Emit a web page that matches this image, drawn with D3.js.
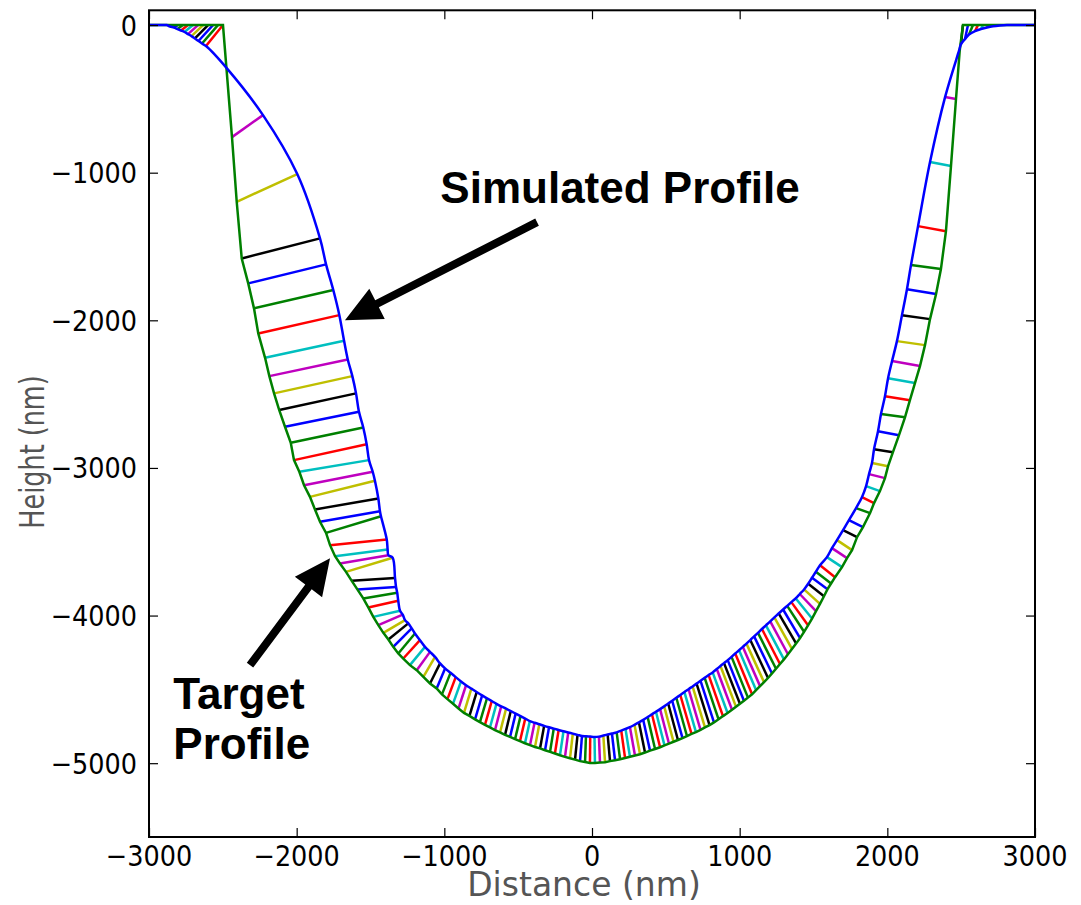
<!DOCTYPE html>
<html>
<head>
<meta charset="utf-8">
<script src="https://cdn.jsdelivr.net/npm/d3@7"></script>
<style>
  body { margin: 0; background: #ffffff; }
  svg { display: block; }
</style>
</head>
<body>
<svg id="chart" width="1081" height="905"></svg>
<script>
// Target profile points (nm), left rim -> bottom -> right rim
const targetX = [
  -3000, -2975, -2950, -2925, -2900, -2880,
  -2838, -2804, -2770, -2736, -2702, -2668, -2634, -2600, -2567, -2533, -2499,
  -2475, -2438, -2406, -2372, -2328, -2289, -2260, -2214, -2185, -2153, -2118, -2079, -2040,
  -2018, -1982, -1950, -1910, -1876, -1842, -1801, -1774, -1740, -1707, -1666, -1627, -1589,
  -1549, -1515, -1481, -1447, -1413, -1379, -1346, -1312, -1278, -1233, -1187, -1142, -1097, -1052,
  -1016, -979, -941, -904, -867, -830, -792, -759, -725, -691, -657, -623, -589, -555, -521,
  -488, -454, -420, -386, -352, -318, -284, -251, -217, -183, -149, -115, -81, -47, -14,
  20, 54, 88, 122, 156, 190, 224, 257, 291, 325, 359, 393, 427, 461, 491, 521, 552, 582,
  613, 643, 674, 704, 735, 765, 796, 826, 857, 887, 918, 948, 975, 1002, 1029, 1056, 1084,
  1111, 1138, 1165, 1192, 1219, 1246, 1273, 1300, 1327, 1354, 1382, 1409, 1436, 1463, 1490,
  1517, 1544, 1571, 1595, 1619, 1646,
  1693, 1727, 1761, 1795, 1835, 1883, 1910, 1950, 1984, 2005, 2038, 2079, 2120, 2153, 2187,
  2221, 2255, 2289, 2330, 2363, 2397, 2431, 2465, 2490,
  2512, 2546, 2580, 2614, 2648, 2682, 2722, 2763,
  2810, 2860, 2910, 2960, 3000
];
const targetY = [
  0, 0, 0, 0, 0, 0,
  0, 0, 0, 0, 0, 0, 0, 0, 0, 0, 0,
  -298, -759, -1197, -1581, -1750, -1919, -2089, -2254, -2378, -2495, -2608, -2721, -2830,
  -2947, -3026, -3117, -3196, -3281, -3365, -3440, -3523, -3598, -3647, -3704, -3765, -3823,
  -3884, -3945, -4009, -4065, -4117, -4162, -4212, -4257, -4291, -4336, -4370, -4415, -4460, -4494,
  -4534, -4566, -4597, -4629, -4659, -4680, -4703, -4722, -4740, -4758, -4776, -4792, -4808, -4822, -4837,
  -4851, -4865, -4878, -4890, -4900, -4912, -4923, -4934, -4946, -4957, -4967, -4976, -4986, -4992, -4998,
  -4999, -4996, -4993, -4986, -4980, -4973, -4965, -4956, -4948, -4939, -4928, -4915, -4904, -4892, -4879, -4867, -4855, -4843,
  -4830, -4816, -4802, -4789, -4774, -4758, -4742, -4724, -4703, -4681, -4660, -4638, -4617, -4597, -4577, -4556, -4533,
  -4505, -4478, -4451, -4423, -4392, -4360, -4328, -4297, -4262, -4226, -4189, -4153, -4110, -4066, -4020,
  -3970, -3921, -3869, -3821, -3783, -3740,
  -3672, -3611, -3557, -3469, -3401, -3306, -3238, -3157, -3069, -2988, -2893, -2778, -2656, -2541, -2425,
  -2310, -2168, -1992, -1822, -1653, -1396, -955, -501, -175,
  0, 0, 0, 0, 0, 0, 0, 0,
  0, 0, 0, 0, 0
];
// Simulated profile points (nm), paired one-to-one with the target points
const simX = [
  -3000, -2975, -2950, -2925, -2900, -2880,
  -2858, -2831, -2807, -2783, -2760, -2736, -2712, -2689, -2665, -2641, -2614,
  -2471, -2228, -1996, -1842, -1801, -1752, -1711, -1679, -1654, -1623, -1598, -1578, -1549,
  -1526, -1510, -1485, -1470, -1447, -1436, -1429, -1390, -1384, -1379, -1350, -1334, -1327,
  -1319, -1312, -1300, -1282, -1266, -1244, -1221, -1199, -1165, -1131, -1097, -1063, -1029, -995,
  -958, -923, -887, -853, -817, -781, -744, -711, -679, -647, -615, -582, -550, -517, -484,
  -452, -421, -389, -357, -324, -291, -259, -226, -193, -161, -130, -98, -68, -41, -12,
  17, 47, 77, 106, 135, 167, 198, 227, 257, 288, 318, 347, 377, 406, 433, 461, 489, 516,
  543, 571, 598, 626, 654, 681, 708, 735, 763, 790, 817, 845, 870, 894, 919, 945, 970,
  996, 1021, 1046, 1072, 1098, 1124, 1151, 1178, 1207, 1235, 1264, 1294, 1322, 1350, 1379,
  1407, 1436, 1464, 1490, 1516, 1544,
  1591, 1625, 1659, 1700, 1740, 1788, 1828, 1856, 1876, 1896, 1910, 1937, 1957, 1984, 2005,
  2032, 2065, 2099, 2133, 2160, 2208, 2289, 2391, 2486,
  2499, 2526, 2553, 2594, 2634, 2675, 2716, 2763,
  2810, 2860, 2910, 2960, 3000
];
const simY = [
  0, 0, 0, 0, 0, 0,
  -10, -17, -27, -37, -47, -61, -75, -91, -108, -125, -142,
  -295, -610, -1009, -1445, -1621, -1795, -1965, -2139, -2265, -2378, -2495, -2620, -2726,
  -2839, -2947, -3026, -3087, -3207, -3293, -3327, -3484, -3552, -3591, -3608, -3745, -3806,
  -3846, -3900, -3968, -3993, -4031, -4053, -4087, -4121, -4167, -4212, -4246, -4280, -4324, -4358,
  -4388, -4417, -4446, -4472, -4495, -4518, -4541, -4560, -4579, -4598, -4615, -4631, -4647, -4664, -4681,
  -4698, -4715, -4726, -4736, -4747, -4757, -4766, -4775, -4784, -4792, -4800, -4808, -4816, -4818, -4820,
  -4822, -4820, -4813, -4806, -4799, -4791, -4779, -4768, -4756, -4740, -4724, -4707, -4688, -4669, -4652, -4634, -4615, -4596,
  -4577, -4557, -4538, -4518, -4499, -4480, -4461, -4442, -4422, -4403, -4385, -4362, -4342, -4322, -4302, -4280, -4257,
  -4235, -4212, -4190, -4166, -4141, -4117, -4091, -4066, -4039, -4012, -3986, -3959, -3934, -3909, -3883,
  -3854, -3823, -3784, -3744, -3703, -3659,
  -3604, -3543, -3489, -3421, -3354, -3272, -3198, -3123, -3042, -2967, -2873, -2751, -2635, -2514, -2392,
  -2276, -2141, -1965, -1789, -1626, -1362, -928, -488, -172,
  -129, -95, -64, -41, -27, -16, -8, -3,
  0, 0, 0, 0, 0
];

const xTicks = [-3000, -2000, -1000, 0, 1000, 2000, 3000];
const yTicks = [0, -1000, -2000, -3000, -4000, -5000];
const xDomain = [-3000, 3000];
const yDomain = [-5500, 100];

// Connector colours cycle in the classic b, g, r, c, m, y, k order
const cycleColors = ["#0000ff", "#008000", "#ff0000", "#00bfbf", "#bf00bf", "#bfbf00", "#000000"];

// Annotation anchors (nm)
const simLabel = { text: "Simulated Profile", x: 190, y: -1205 };
const simArrow = { from: [-372, -1335], to: [-1673, -1999] };
const targetLabel = { lines: ["Target", "Profile"], x: -2835, y: -4635 };
const targetArrow = { from: [-2316, -4336], to: [-1774, -3611] };

const margin = { left: 149, right: 1081 - 1035, top: 10.3, bottom: 905 - 837 };
const W = 1081, H = 905;

const svg = d3.select("#chart");
const x = d3.scaleLinear().domain(xDomain).range([margin.left, W - margin.right]);
const y = d3.scaleLinear().domain(yDomain).range([H - margin.bottom, margin.top]);

const pairs = targetX.map((tx, i) => ({
  tx, ty: targetY[i], sx: simX[i], sy: simY[i], i
}));

const plot = svg.append("g");
const lw = 2.5;

// Connectors between each target point and its simulated counterpart
plot.append("g")
  .selectAll("line")
  .data(pairs)
  .join("line")
  .attr("x1", d => x(d.tx))
  .attr("y1", d => y(d.ty))
  .attr("x2", d => x(d.sx))
  .attr("y2", d => y(d.sy))
  .attr("stroke", d => cycleColors[d.i % cycleColors.length])
  .attr("stroke-width", lw);

// Target profile
plot.append("path")
  .datum(pairs)
  .attr("fill", "none")
  .attr("stroke", "#008000")
  .attr("stroke-width", lw)
  .attr("d", d3.line().x(d => x(d.tx)).y(d => y(d.ty)));

// Simulated profile
plot.append("path")
  .datum(pairs)
  .attr("fill", "none")
  .attr("stroke", "#0000ff")
  .attr("stroke-width", lw)
  .attr("d", d3.line().curve(d3.curveCatmullRom.alpha(0.5)).x(d => x(d.sx)).y(d => y(d.sy)));

// Inward ticks on all four sides
const tickLen = 9;
const fontTick = "DejaVu Sans, sans-serif";
const axisG = svg.append("g");

axisG.append("g").attr("transform", `translate(0,${y(yDomain[0])})`)
  .call(d3.axisBottom(x).tickValues(xTicks).tickSize(-tickLen).tickFormat(""));
axisG.append("g").attr("transform", `translate(0,${y(yDomain[1])})`)
  .call(d3.axisTop(x).tickValues(xTicks).tickSize(-tickLen).tickFormat(""));
axisG.append("g").attr("transform", `translate(${x(xDomain[0])},0)`)
  .call(d3.axisLeft(y).tickValues(yTicks).tickSize(-tickLen).tickFormat(""));
axisG.append("g").attr("transform", `translate(${x(xDomain[1])},0)`)
  .call(d3.axisRight(y).tickValues(yTicks).tickSize(-tickLen).tickFormat(""));
axisG.selectAll(".domain").remove();
axisG.selectAll(".tick line").attr("stroke", "#000").attr("stroke-width", 1.2);

// Tick labels, set slightly narrow
const fmt = d => d3.format("d")(d).replace("-", "\u2212");
const tickSize = 29, tickSquash = 0.88;
svg.append("g").selectAll("text")
  .data(xTicks)
  .join("text")
  .attr("transform", d => `translate(${x(d)},${y(yDomain[0]) + 29}) scale(${tickSquash},1)`)
  .attr("text-anchor", "middle")
  .attr("font-family", fontTick)
  .attr("font-size", tickSize)
  .attr("fill", "#000")
  .text(fmt);
svg.append("g").selectAll("text")
  .data(yTicks)
  .join("text")
  .attr("transform", d => `translate(${x(xDomain[0]) - 12},${y(d) + 10.5}) scale(${tickSquash},1)`)
  .attr("text-anchor", "end")
  .attr("font-family", fontTick)
  .attr("font-size", tickSize)
  .attr("fill", "#000")
  .text(fmt);

// Frame
svg.append("rect")
  .attr("x", x(xDomain[0])).attr("y", y(yDomain[1]))
  .attr("width", x(xDomain[1]) - x(xDomain[0]))
  .attr("height", y(yDomain[0]) - y(yDomain[1]))
  .attr("fill", "none").attr("stroke", "#000").attr("stroke-width", 2);

// Axis titles
svg.append("text")
  .attr("x", (x(xDomain[0]) + x(xDomain[1])) / 2 - 8)
  .attr("y", 896)
  .attr("text-anchor", "middle")
  .attr("font-family", fontTick)
  .attr("font-size", 33)
  .attr("fill", "#555")
  .text("Distance (nm)");

svg.append("text")
  .attr("transform", `translate(44,452) rotate(-90) scale(0.75,1)`)
  .attr("text-anchor", "middle")
  .attr("font-family", fontTick)
  .attr("font-size", 34)
  .attr("fill", "#555")
  .text("Height (nm)");

// Annotations
const annoFont = "Liberation Sans, Arial, sans-serif";
function arrow(from, to) {
  const [x0, y0] = [x(from[0]), y(from[1])];
  const [x1, y1] = [x(to[0]), y(to[1])];
  const ang = Math.atan2(y1 - y0, x1 - x0);
  const len = Math.hypot(x1 - x0, y1 - y0);
  const headL = 36, headW = 17, shaft = 4;
  const pts = [
    [0, -shaft], [len - headL, -shaft], [len - headL, -headW],
    [len, 0], [len - headL, headW], [len - headL, shaft], [0, shaft]
  ];
  svg.append("polygon")
    .attr("points", pts.map(p => p.join(",")).join(" "))
    .attr("transform", `translate(${x0},${y0}) rotate(${ang * 180 / Math.PI})`)
    .attr("fill", "#000");
}
arrow(simArrow.from, simArrow.to);
arrow(targetArrow.from, targetArrow.to);

svg.append("text")
  .attr("x", x(simLabel.x)).attr("y", y(simLabel.y))
  .attr("text-anchor", "middle")
  .attr("font-family", annoFont)
  .attr("font-weight", "bold")
  .attr("font-size", 44)
  .attr("fill", "#000")
  .text(simLabel.text);

targetLabel.lines.forEach((t, k) => {
  svg.append("text")
    .attr("x", x(targetLabel.x)).attr("y", y(targetLabel.y) + k * 50)
    .attr("font-family", annoFont)
    .attr("font-weight", "bold")
    .attr("font-size", 44)
    .attr("fill", "#000")
    .text(t);
});
</script>
</body>
</html>
